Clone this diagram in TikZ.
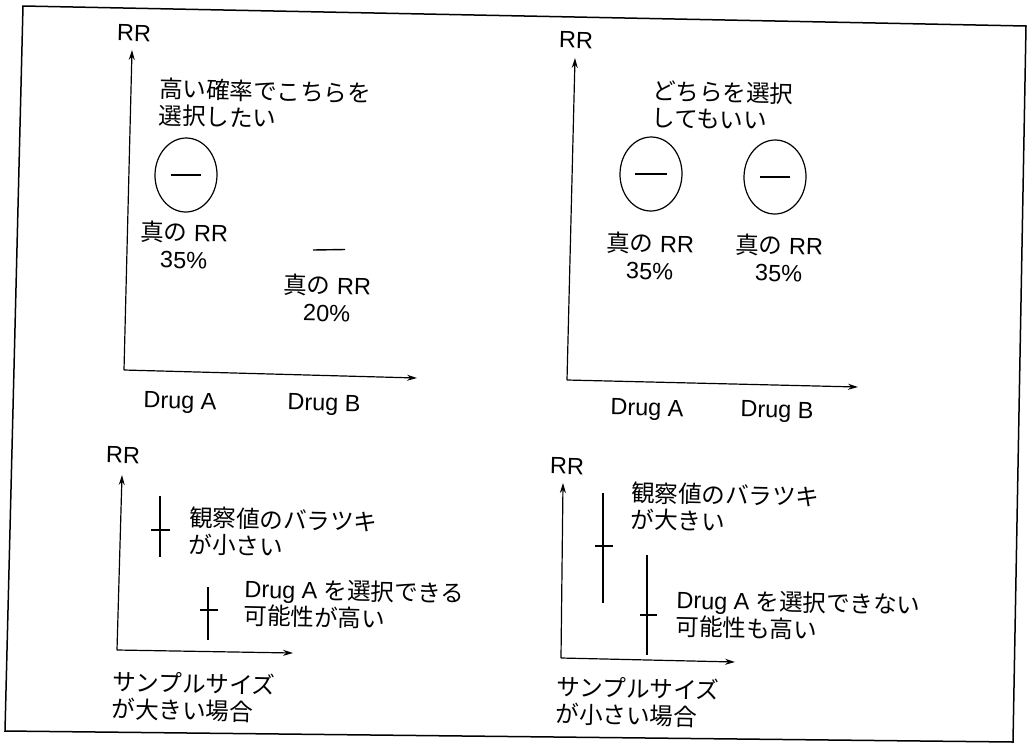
\documentclass[tikz,border=0pt]{standalone}
\usepackage{fontspec}
\setmainfont{Liberation Sans}
\newfontfamily\cjk{Noto Sans CJK JP}
\usetikzlibrary{arrows.meta,shapes.geometric}
\tikzset{
  txt/.style={inner sep=0pt, rotate=-1.3, font=\fontsize{23.5}{27}\selectfont},
  jtxt/.style={txt, align=left, anchor=west},
  ctxt/.style={txt, align=center},
  axis/.style={line width=1.2pt, -{Stealth[length=10pt,width=6pt]}},
  bar/.style={line width=1.4pt},
  oval/.style={ellipse, draw, line width=1.2pt, minimum width=62pt, minimum height=74pt, inner sep=0pt, rotate=-1.3},
  frame/.style={line width=1.5pt, line join=miter}
}
\begin{document}
\begin{tikzpicture}[x=1pt,y=-1pt]
\useasboundingbox (0,0) rectangle (1028,748);
\fill[white] (0,0) rectangle (1028,748);
% frame
\draw[frame] (23,6) -- (1026,26) -- (1013,742) -- (5,731) -- cycle;

% ---------- top-left panel ----------
\coordinate (tlY) at (132,50);
\coordinate (tlO) at (124,370);
\coordinate (tlX) at (417,378);
\draw[axis] (tlO) -- (tlY);
\draw[axis] (tlO) -- (tlX);
\node[txt] (tlRR) at (134,33) {RR};
\node[jtxt] (tlNote) at (159,102) {\cjk 高い確率でこちらを\\\cjk 選択したい};
\node[oval] (tlEll) at (186,175) {};
\draw[bar] ([xshift=-15pt]tlEll.center) -- ([xshift=15pt]tlEll.center);
\node[ctxt] (tlLabA) at (184,245) {{\cjk 真の} RR\\35\%};
\coordinate (tlB) at (329,250);
\draw[bar] ([xshift=-16pt]tlB) -- ([xshift=16pt,yshift=0.5pt]tlB);
\node[ctxt] (tlLabB) at (327,298) {{\cjk 真の} RR\\20\%};
\node[txt] (tlDA) at (180,403) {Drug A};
\node[txt] (tlDB) at (324,405) {Drug B};

% ---------- top-right panel ----------
\coordinate (trY) at (575,58);
\coordinate (trO) at (567,380);
\coordinate (trX) at (858,387);
\draw[axis] (trO) -- (trY);
\draw[axis] (trO) -- (trX);
\node[txt] (trRR) at (576,40) {RR};
\node[jtxt] (trNote) at (652,104) {\cjk どちらを選択\\\cjk してもいい};
\node[oval] (trEll1) at (651,174) {};
\draw[bar] ([xshift=-16pt]trEll1.center) -- ([xshift=16pt]trEll1.center);
\node[oval] (trEll2) at (775,177) {};
\draw[bar] ([xshift=-15pt]trEll2.center) -- ([xshift=15pt]trEll2.center);
\node[ctxt] (trLab1) at (650,256) {{\cjk 真の} RR\\35\%};
\node[ctxt] (trLab2) at (779,258) {{\cjk 真の} RR\\35\%};
\node[txt] (trDA) at (647,410) {Drug A};
\node[txt] (trDB) at (777,412) {Drug B};

% ---------- bottom-left panel ----------
\coordinate (blY) at (122,475);
\coordinate (blO) at (117,650);
\coordinate (blX) at (293,653);
\draw[axis] (blO) -- (blY);
\draw[axis] (blO) -- (blX);
\node[txt] (blRR) at (123,455) {RR};
\draw[bar] (160,496) -- (160,557);
\draw[bar] (151,530) -- (170,530);
\draw[bar] (208,587) -- (208,640);
\draw[bar] (200,610) -- (218,610);
\node[jtxt] (blNote1) at (189,531) {\cjk 観察値のバラツキ\\\cjk が小さい};
\node[jtxt] (blNote2) at (244,602) {Drug A {\cjk を選択できる}\\\cjk 可能性が高い};
\node[jtxt] (blCap) at (112,695) {\cjk サンプルサイズ\\\cjk が大きい場合};

% ---------- bottom-right panel ----------
\coordinate (brY) at (563,483);
\coordinate (brO) at (561,658);
\coordinate (brX) at (735,662);
\draw[axis] (brO) -- (brY);
\draw[axis] (brO) -- (brX);
\node[txt] (brRR) at (567,466) {RR};
\draw[bar] (603,493) -- (603,603);
\draw[bar] (595,546) -- (613,546);
\draw[bar] (647,555) -- (647,655);
\draw[bar] (640,615) -- (657,615);
\node[jtxt] (brNote1) at (631,506) {\cjk 観察値のバラツキ\\\cjk が大きい};
\node[jtxt] (brNote2) at (676,613) {Drug A {\cjk を選択できない}\\\cjk 可能性も高い};
\node[jtxt] (brCap) at (556,700) {\cjk サンプルサイズ\\\cjk が小さい場合};
\end{tikzpicture}
\end{document}
